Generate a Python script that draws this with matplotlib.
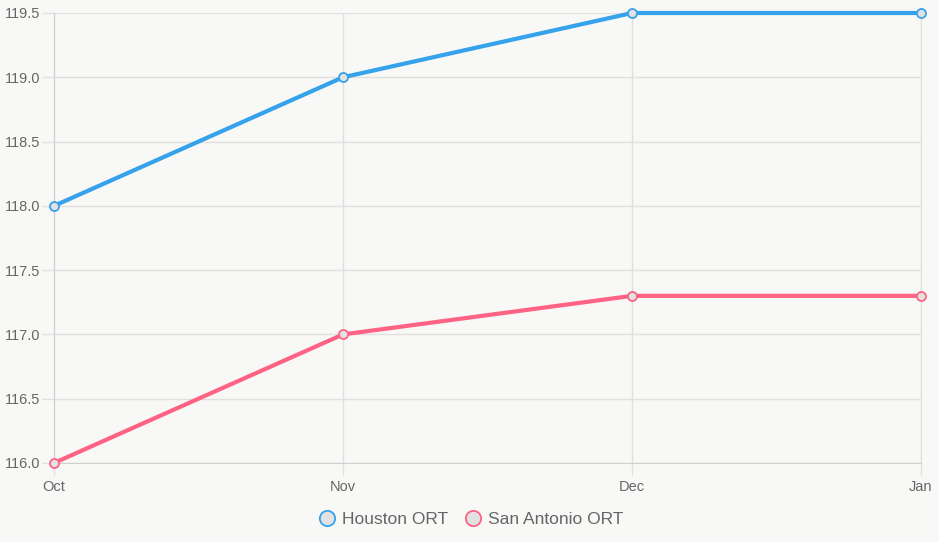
import matplotlib.pyplot as plt
from matplotlib.lines import Line2D

months = ['Oct', 'Nov', 'Dec', 'Jan']
houston = [118.0, 119.0, 119.5, 119.5]
san_antonio = [116.0, 117.0, 117.3, 117.3]

blue = '#36a2eb'
pink = '#ff6384'
bg = '#f8f8f6'
txt = '#666666'

plt.rcParams['font.family'] = ['Liberation Sans', 'DejaVu Sans']

fig = plt.figure(figsize=(9.39, 5.42), dpi=100, facecolor=bg)
ax = fig.add_axes([54 / 939, 79 / 542, 867 / 939, 450 / 542])
ax.set_facecolor(bg)

x = range(len(months))
for vals, col in [(houston, blue), (san_antonio, pink)]:
    ax.plot(x, vals, color=col, lw=3, marker='o', ms=6.5,
            mfc='#e2e2e2', mec=col, mew=1.3, zorder=3, clip_on=False)

ax.set_xlim(0, 3)
ax.set_ylim(116, 119.5)
ax.set_xticks(list(x))
ax.set_xticklabels(months)
ax.set_yticks([116 + 0.5 * i for i in range(8)])
ax.set_yticklabels([f'{116 + 0.5 * i:.1f}' for i in range(8)])

ax.grid(True, color='#e0e0e0', lw=1)
ax.set_axisbelow(True)
ax.spines['top'].set_visible(False)
ax.spines['right'].set_color('#e0e0e0')
for s in ['left', 'bottom']:
    ax.spines[s].set_color('#cfcfcf')
ax.tick_params(colors='#e0e0e0', labelcolor=txt, labelsize=10.5, length=9, width=1)
ax.tick_params(axis='y', pad=1)
ax.tick_params(axis='x', pad=3)

handles = [Line2D([], [], ls='none', marker='o', ms=11, mfc='#e2e2e2', mec=c, mew=1.3)
           for c in (blue, pink)]
fig.legend(handles, ['Houston ORT', 'San Antonio ORT'], loc='center',
           bbox_to_anchor=(470 / 939, 1 - 519 / 542), ncol=2, frameon=False,
           fontsize=12.5, labelcolor=txt, handletextpad=0.3, columnspacing=0.8,
           handlelength=1.2)

fig.savefig('out.png', dpi=100, facecolor=bg)
